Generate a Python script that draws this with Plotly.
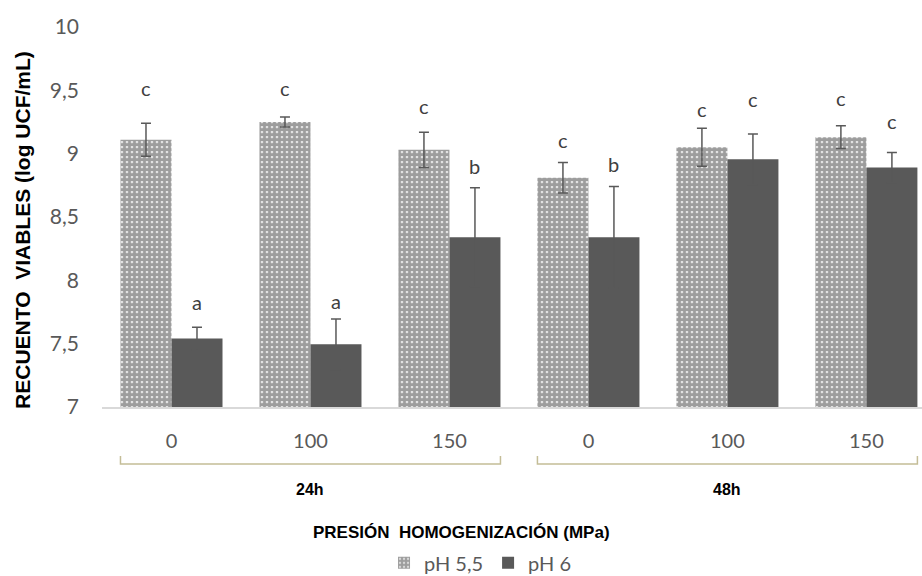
import plotly.graph_objects as go

groups = ["24h", "24h", "24h", "48h", "48h", "48h"]
pressures = ["0", "100", "150", "0", "100", "150"]
ph55 = [9.11, 9.25, 9.03, 8.81, 9.05, 9.13]
ph55_err = [0.13, 0.04, 0.14, 0.12, 0.15, 0.09]
ph6 = [7.54, 7.495, 8.34, 8.34, 8.955, 8.89]
ph6_err = [0.09, 0.20, 0.39, 0.40, 0.20, 0.12]
ph55_letters = ["c", "c", "c", "c", "c", "c"]
ph55_letter_y = [9.52, 9.52, 9.38, 9.11, 9.35, 9.44]
ph6_letters = ["a", "a", "b", "b", "c", "c"]
ph6_letter_y = [7.83, 7.84, 8.90, 8.92, 9.43, 9.26]
y_ticks = [7, 7.5, 8, 8.5, 9, 9.5, 10]

x = list(range(len(pressures)))
DARK = "#595959"
TXT = "#595959"
BAR_HALF = 0.367  # half width of a bar pair in category units
OFF = BAR_HALF / 2

fig = go.Figure()
fig.add_trace(go.Bar(
    x=x, y=ph55, name="pH 5,5",
    marker=dict(color="#ffffff", line=dict(width=0),
                pattern=dict(shape=".", fgcolor="#3c3c3c", bgcolor="#ffffff",
                             size=5, solidity=0.8)),
    error_y=dict(type="data", array=ph55_err, color=DARK, thickness=1.5, width=5),
))
fig.add_trace(go.Bar(
    x=x, y=ph6, name="pH 6",
    marker=dict(color=DARK, line=dict(width=0)),
    error_y=dict(type="data", array=ph6_err, color=DARK, thickness=1.5, width=5),
))

annotations = []
for i in x:
    annotations.append(dict(x=i - OFF, y=ph55_letter_y[i], xref="x", yref="y",
                            xanchor="center", yanchor="middle",
                            text=ph55_letters[i], showarrow=False,
                            font=dict(family="Lato", size=20, color="#404040")))
    annotations.append(dict(x=i + OFF, y=ph6_letter_y[i], xref="x", yref="y",
                            xanchor="center", yanchor="middle",
                            text=ph6_letters[i], showarrow=False,
                            font=dict(family="Lato", size=20, color="#404040")))

# group brackets
shapes = []
group_names = []
for g in groups:
    if g not in group_names:
        group_names.append(g)
for g in group_names:
    idx = [i for i, gg in enumerate(groups) if gg == g]
    x0 = idx[0] - BAR_HALF
    x1 = idx[-1] + BAR_HALF
    shapes.append(dict(type="path", xref="x", yref="paper",
                       path=f"M {x0},-0.129 L {x0},-0.150 L {x1},-0.150 L {x1},-0.129",
                       line=dict(color="#C4BD97", width=1.5)))
    annotations.append(dict(x=(idx[0] + idx[-1]) / 2, y=-0.218, xref="x", yref="paper",
                            xanchor="center", yanchor="middle",
                            text=f"<b>{g}</b>", showarrow=False,
                            font=dict(family="Liberation Sans", size=16, color="#000000")))

annotations.append(dict(x=0.438, y=-0.329, xref="paper", yref="paper",
                        xanchor="center", yanchor="middle",
                        text="<b>PRESIÓN  HOMOGENIZACIÓN (MPa)</b>", showarrow=False,
                        font=dict(family="Liberation Sans", size=17, color="#000000")))
annotations.append(dict(x=-0.0963, y=0.466, xref="paper", yref="paper", textangle=-90,
                        xanchor="center", yanchor="middle",
                        text="<b>RECUENTO  VIABLES (log UCF/mL)</b>", showarrow=False,
                        font=dict(family="Liberation Sans", size=21, color="#000000")))

fig.update_layout(
    width=922, height=576,
    margin=dict(l=102, r=0, t=27, b=169, autoexpand=False),
    plot_bgcolor="#ffffff", paper_bgcolor="#ffffff",
    barmode="group", bargap=0.266, bargroupgap=0,
    separators=",.",
    showlegend=True,
    legend=dict(orientation="h", x=0.461, y=-0.41, xanchor="center", yanchor="middle",
                font=dict(family="Lato", size=20, color=TXT),
                itemwidth=30, tracegroupgap=0),
    annotations=annotations,
    shapes=shapes,
    xaxis=dict(range=[-0.5, 5.4], tickvals=x, ticktext=pressures,
               showline=True, linecolor="#D9D9D9", linewidth=1.5,
               showgrid=False, zeroline=False, ticks="",
               ticklabelstandoff=15,
               tickfont=dict(family="Lato", size=20, color=TXT)),
    yaxis=dict(range=[7, 10], tickvals=y_ticks, showgrid=False, zeroline=False,
               showline=False, ticks="", ticklabelstandoff=22,
               tickfont=dict(family="Lato", size=21, color=TXT)),
)

fig.write_html("out.html", config={"displayModeBar": False},
               post_script="document.body.style.margin='0';document.body.style.overflow='hidden';")
